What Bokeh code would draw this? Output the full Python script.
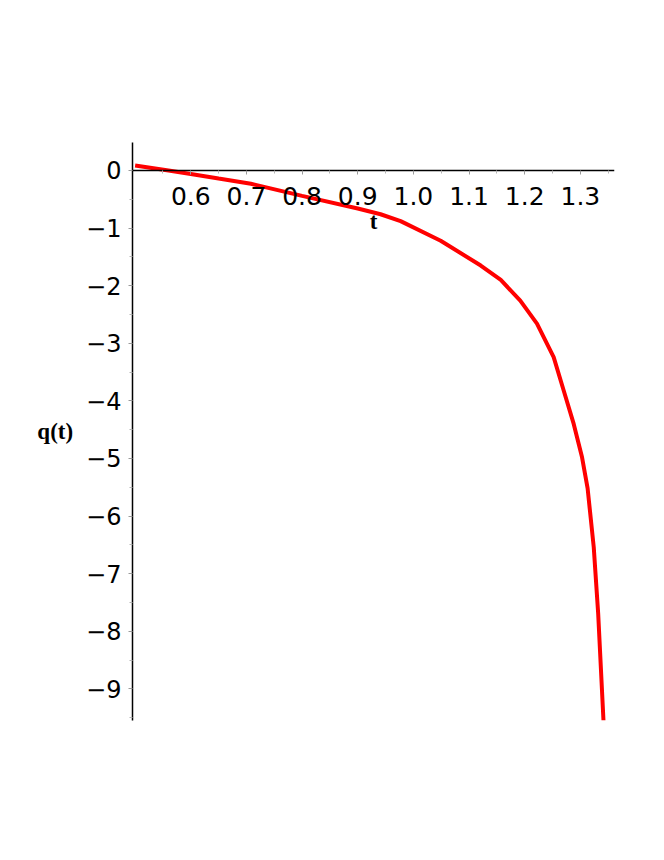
from bokeh.plotting import figure
from bokeh.models import LinearAxis, FixedTicker, Range1d
from bokeh.embed import file_html
from bokeh.resources import INLINE

# data
t_vals = [0.50, 0.56, 0.60, 0.65, 0.708, 0.80, 0.90, 0.941, 0.977, 1.049, 1.121,
          1.157, 1.192, 1.222, 1.252, 1.270, 1.288, 1.303, 1.313, 1.324, 1.332, 1.3415]
q_vals = [0.087, 0.0, -0.06, -0.14, -0.23, -0.44, -0.66, -0.76, -0.88, -1.22, -1.65,
          -1.90, -2.26, -2.66, -3.24, -3.82, -4.40, -4.98, -5.52, -6.54, -7.70, -9.55]

x_ticks = [0.6, 0.7, 0.8, 0.9, 1.0, 1.1, 1.2, 1.3]
x_minor = [0.55, 0.65, 0.75, 0.85, 0.95, 1.05, 1.15, 1.25, 1.35]
y_ticks = [0, -1, -2, -3, -4, -5, -6, -7, -8, -9]
y_minor = [0.5, -0.5, -1.5, -2.5, -3.5, -4.5, -5.5, -6.5, -7.5, -8.5, -9.5]

p = figure(width=648, height=844, output_backend="svg", toolbar_location=None,
           x_axis_type=None, y_axis_type=None,
           x_range=Range1d(0.4953, 1.3613), y_range=Range1d(-9.55, 0.486),
           min_border_left=132, min_border_right=34,
           min_border_top=142, min_border_bottom=124)
p.outline_line_color = None
p.background_fill_color = "white"
p.border_fill_color = "white"

tick_font = "DejaVu Sans"

xaxis = LinearAxis(fixed_location=0,
                   ticker=FixedTicker(ticks=x_ticks, minor_ticks=x_minor),
                   axis_label="t")
xaxis.major_label_overrides = {v: f"{v:.1f}" for v in x_ticks}
yaxis = LinearAxis(ticker=FixedTicker(ticks=y_ticks, minor_ticks=y_minor),
                   axis_label="q(t)", axis_label_orientation="horizontal")
yaxis.major_label_overrides = {v: (str(v).replace("-", "\u2212")) for v in y_ticks}

for ax in (xaxis, yaxis):
    ax.axis_line_color = "black"
    ax.axis_line_width = 1.5
    ax.major_tick_line_color = "#9a9a9a"
    ax.minor_tick_line_color = "#b5b5b5"
    ax.major_tick_out = 4
    ax.major_tick_in = 0
    ax.minor_tick_out = 3
    ax.minor_tick_in = 0
    ax.major_label_text_font = tick_font
    ax.major_label_text_color = "black"
    ax.axis_label_text_font = "Liberation Serif"
    ax.axis_label_text_font_style = "bold"
    ax.axis_label_text_font_size = "23px"
    ax.axis_label_text_color = "black"

xaxis.major_label_text_font_size = "25px"
yaxis.major_label_text_font_size = "24px"
xaxis.major_label_standoff = 13
xaxis.axis_label_standoff = 0
yaxis.major_label_standoff = 7
yaxis.axis_label_standoff = 10

p.add_layout(xaxis, "below")
p.add_layout(yaxis, "left")

p.line(t_vals, q_vals, line_color="#ff0000", line_width=4)

open("out.html", "w").write(file_html(p, INLINE))
